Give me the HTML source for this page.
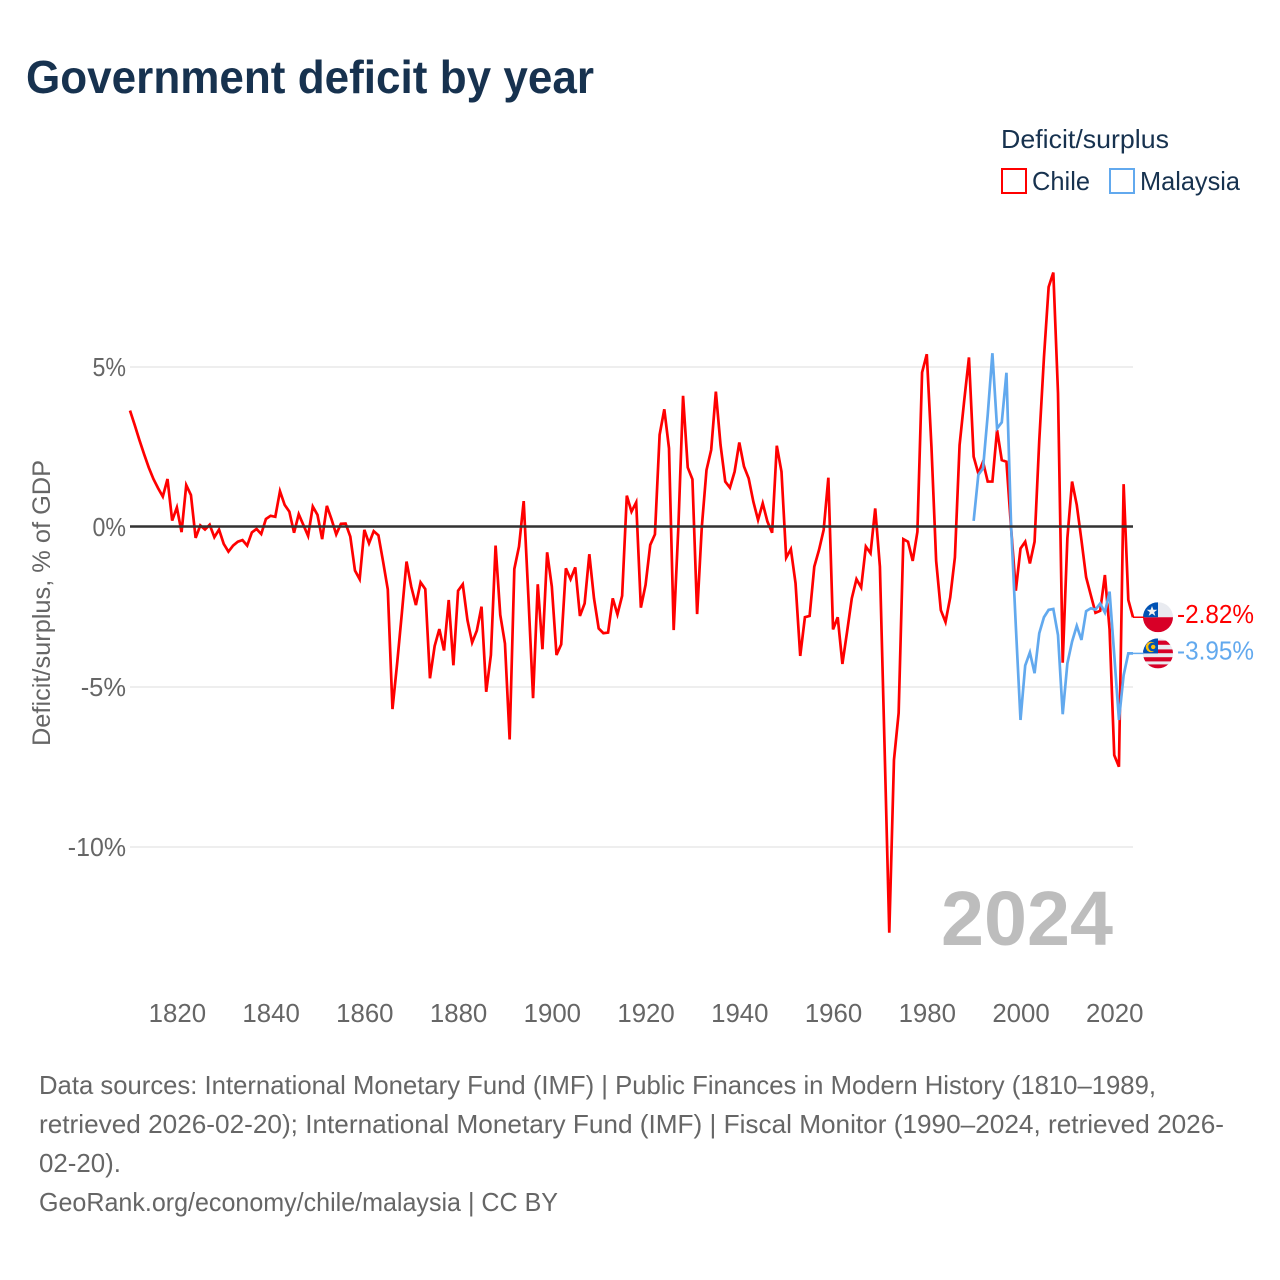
<!DOCTYPE html>
<html lang="en">
<head>
<meta charset="utf-8">
<title>Government deficit by year</title>
<style>
html,body{margin:0;padding:0;background:#fff;}
svg{display:block;font-family:"Liberation Sans",sans-serif;}
</style>
</head>
<body>
<svg id="chart" width="1280" height="1280" viewBox="0 0 1280 1280" xmlns="http://www.w3.org/2000/svg">
  <rect width="1280" height="1280" fill="#fff"/>
  <text x="26" y="93" font-size="46" font-weight="700" fill="#17324f" textLength="568" lengthAdjust="spacingAndGlyphs">Government deficit by year</text>

  <g>
    <text x="1001" y="148" font-size="26" fill="#17324f" textLength="168" lengthAdjust="spacingAndGlyphs">Deficit/surplus</text>
    <g>
      <rect x="1002" y="169" width="24" height="24" fill="#fff" stroke="#ff0000" stroke-width="2"/>
      <text x="1032" y="190" font-size="26" fill="#17324f" textLength="58" lengthAdjust="spacingAndGlyphs">Chile</text>
    </g>
    <g>
      <rect x="1110" y="169" width="24" height="24" fill="#fff" stroke="#62a9ee" stroke-width="2"/>
      <text x="1140" y="190" font-size="26" fill="#17324f" textLength="100" lengthAdjust="spacingAndGlyphs">Malaysia</text>
    </g>
  </g>

  <text transform="translate(50,603) rotate(-90)" text-anchor="middle" font-size="25" fill="#666" textLength="286" lengthAdjust="spacingAndGlyphs">Deficit/surplus, % of GDP</text>

  <g id="grid"></g>
  <g id="series"></g>
  <g id="zero"></g>
  <g id="yticks"></g>
  <g id="xticks"></g>

  <text x="941" y="945" font-size="77" font-weight="700" fill="#bdbdbd" textLength="172" lengthAdjust="spacingAndGlyphs">2024</text>

  <defs>
    <clipPath id="flag-clip-chile"><circle cx="15" cy="15" r="15"/></clipPath>
    <clipPath id="flag-clip-malaysia"><circle cx="15" cy="15" r="15"/></clipPath>
  </defs>
  <g id="flag-chile">
    <g clip-path="url(#flag-clip-chile)">
      <rect width="30" height="15" fill="#e9ebf0"/>
      <rect y="15" width="30" height="15" fill="#d80027"/>
      <rect width="15" height="15" fill="#0052b4"/>
      <polygon points="9,3.7 10.4,7.5 14.3,7.5 11.2,9.9 12.3,13.6 9,11.4 5.7,13.6 6.8,9.9 3.7,7.5 7.6,7.5" fill="#f2f2f2"/>
    </g>
  </g>
  <g id="flag-malaysia">
    <g clip-path="url(#flag-clip-malaysia)">
      <rect width="30" height="30" fill="#e9ebf0"/>
      <rect y="2.2" width="30" height="4.2" fill="#d80027"/>
      <rect y="11" width="30" height="3.8" fill="#d80027"/>
      <rect y="18.8" width="30" height="4.2" fill="#d80027"/>
      <rect y="26" width="30" height="4" fill="#d80027"/>
      <rect width="15" height="15" fill="#0052b4"/>
      <circle cx="8" cy="8.5" r="5.2" fill="#ffc107"/>
      <circle cx="9.6" cy="8.5" r="4.3" fill="#0052b4"/>
      <circle cx="10.2" cy="8.5" r="2.2" fill="#ffc107"/>
    </g>
  </g>
  <g id="end-labels"></g>

  <g font-size="26" fill="#666">
    <text x="39" y="1094" textLength="1117" lengthAdjust="spacingAndGlyphs">Data sources: International Monetary Fund (IMF) | Public Finances in Modern History (1810–1989,</text>
    <text x="39" y="1133" textLength="1185" lengthAdjust="spacingAndGlyphs">retrieved 2026-02-20); International Monetary Fund (IMF) | Fiscal Monitor (1990–2024, retrieved 2026-</text>
    <text x="39" y="1172" textLength="82" lengthAdjust="spacingAndGlyphs">02-20).</text>
    <text x="39" y="1211" textLength="519" lengthAdjust="spacingAndGlyphs">GeoRank.org/economy/chile/malaysia | CC BY</text>
  </g>
</svg>

<script>
const chileStartYear = 1810;
const chileValues = [
  3.64,3.19,2.72,2.28,1.86,1.5,1.21,0.95,1.5,0.2,
  0.61,-0.16,1.31,1.0,-0.34,0.05,-0.08,0.07,-0.32,-0.08,
  -0.53,-0.77,-0.58,-0.46,-0.41,-0.58,-0.17,-0.06,-0.22,0.25,
  0.35,0.32,1.12,0.69,0.48,-0.18,0.4,0.06,-0.28,0.64,
  0.38,-0.38,0.66,0.24,-0.23,0.1,0.11,-0.3,-1.36,-1.63,
  -0.09,-0.51,-0.13,-0.26,-1.08,-1.95,-5.69,-4.26,-2.7,-1.08,
  -1.86,-2.44,-1.73,-1.94,-4.73,-3.72,-3.19,-3.86,-2.28,-4.32,
  -1.99,-1.79,-2.91,-3.61,-3.24,-2.49,-5.15,-4.0,-0.58,-2.75,
  -3.64,-6.64,-1.31,-0.61,0.81,-2.18,-5.35,-1.79,-3.82,-0.79,
  -1.86,-4.0,-3.67,-1.29,-1.63,-1.26,-2.78,-2.39,-0.85,-2.23,
  -3.17,-3.32,-3.3,-2.23,-2.73,-2.15,0.98,0.48,0.77,-2.52,
  -1.81,-0.56,-0.23,2.88,3.68,2.46,-3.22,0.0,4.1,1.86,
  1.49,-2.72,0.0,1.78,2.41,4.23,2.56,1.42,1.23,1.73,
  2.64,1.89,1.52,0.79,0.22,0.74,0.17,-0.18,2.54,1.73,
  -0.96,-0.69,-1.76,-4.03,-2.82,-2.78,-1.24,-0.72,-0.09,1.54,
  -3.2,-2.82,-4.28,-3.27,-2.23,-1.63,-1.89,-0.61,-0.82,0.58,
  -1.24,-6.9,-12.68,-7.28,-5.81,-0.38,-0.46,-1.06,-0.15,4.83,
  5.4,2.5,-1.06,-2.6,-2.97,-2.2,-0.95,2.56,3.97,5.3,
  2.2,1.67,2.04,1.42,1.42,3.03,2.09,2.04,-0.05,-1.99,
  -0.67,-0.46,-1.14,-0.46,2.7,5.3,7.5,7.95,4.18,-4.24,
  -0.35,1.42,0.69,-0.41,-1.57,-2.13,-2.68,-2.62,-1.5,-3.2,
  -7.13,-7.49,1.34,-2.28,-2.82
];
const malaysiaStartYear = 1990;
const malaysiaValues = [
  0.19,1.63,1.83,3.5,5.43,3.08,3.27,4.82,0.0,-3.1,
  -6.03,-4.33,-3.92,-4.57,-3.32,-2.82,-2.59,-2.56,-3.38,-5.85,
  -4.26,-3.58,-3.09,-3.53,-2.63,-2.54,-2.58,-2.39,-2.67,-2.02,
  -4.0,-6.03,-4.63,-3.95,-3.95
];
const xTickYears = [1820,1840,1860,1880,1900,1920,1940,1960,1980,2000,2020];
const yTickValues = [5,0,-5,-10];

const NS = 'http://www.w3.org/2000/svg';
const xDomain = [1810, 2024];
const xRange = [130, 1133];
const yZeroPx = 527;
const yPxPerPercent = 32;
function xScale(year) {
  return xRange[0] + (year - xDomain[0]) * (xRange[1] - xRange[0]) / (xDomain[1] - xDomain[0]);
}
function yScale(value) {
  return yZeroPx - value * yPxPerPercent;
}
function make(tag, attrs, parent, text) {
  const el = document.createElementNS(NS, tag);
  for (const k in attrs) el.setAttribute(k, attrs[k]);
  if (text !== undefined) el.textContent = text;
  parent.appendChild(el);
  return el;
}

const grid = document.getElementById('grid');
const yticks = document.getElementById('yticks');
yTickValues.forEach(function (v) {
  const y = yScale(v);
  const line = make('line', {x1: xRange[0], x2: xRange[1], y1: y, y2: y, stroke: '#eeeeee', 'stroke-width': 2}, grid);
  
  
  const t = make('text', {x: 126, y: y + 9, 'text-anchor': 'end', 'font-size': 25.5, fill: '#666'}, yticks, v + '%');
  
  
  t.setAttribute('textLength', (t.getComputedTextLength() * 0.91 + (v < 0 ? 4 : 0)).toFixed(1));
  t.setAttribute('lengthAdjust', 'spacingAndGlyphs');
});

const xticks = document.getElementById('xticks');
xTickYears.forEach(function (yr) {
  const t = make('text', {x: xScale(yr) + 0.5, y: 1022, 'text-anchor': 'middle', 'font-size': 25.8, fill: '#666'}, xticks, String(yr));
  
  
});

const seriesGroup = document.getElementById('series');
function pathFor(startYear, values) {
  return values.map(function (v, i) {
    return (i ? 'L' : 'M') + xScale(startYear + i).toFixed(2) + ' ' + yScale(v).toFixed(2);
  }).join('');
}
const chileLine = make('path', {d: pathFor(chileStartYear, chileValues), fill: 'none', stroke: '#ff0000', 'stroke-width': 2.7}, seriesGroup);


const malaysiaLine = make('path', {d: pathFor(malaysiaStartYear, malaysiaValues), fill: 'none', stroke: '#62a9ee', 'stroke-width': 2.7}, seriesGroup);



const zeroLine = make('line', {x1: xRange[0], x2: xRange[1], y1: yScale(0) - 0.5, y2: yScale(0) - 0.5, stroke: '#333', 'stroke-width': 2.5}, document.getElementById('zero'));



const endLabels = document.getElementById('end-labels');
const chileLast = chileValues[chileValues.length - 1];
const malaysiaLast = malaysiaValues[malaysiaValues.length - 1];
const chileLeader = make('line', {x1: xRange[1], x2: 1144, y1: yScale(chileLast), y2: yScale(chileLast), stroke: '#ff0000', 'stroke-width': 1.5}, endLabels);


const malaysiaLeader = make('line', {x1: xRange[1], x2: 1144, y1: yScale(malaysiaLast), y2: yScale(malaysiaLast), stroke: '#62a9ee', 'stroke-width': 1.5}, endLabels);


document.getElementById('flag-chile').setAttribute('transform', 'translate(1143,' + (yScale(chileLast) - 15) + ')');
document.getElementById('flag-malaysia').setAttribute('transform', 'translate(1143,' + (yScale(malaysiaLast) - 15) + ')');
const chileLabel = make('text', {x: 1177, y: yScale(chileLast) + 6, 'font-size': 25.5, fill: '#ff0000', textLength: 77, lengthAdjust: 'spacingAndGlyphs'}, endLabels, chileLast.toFixed(2) + '%');


const malaysiaLabel = make('text', {x: 1177, y: yScale(malaysiaLast) + 6, 'font-size': 25.5, fill: '#62a9ee', textLength: 77, lengthAdjust: 'spacingAndGlyphs'}, endLabels, malaysiaLast.toFixed(2) + '%');


</script>
</body>
</html>
